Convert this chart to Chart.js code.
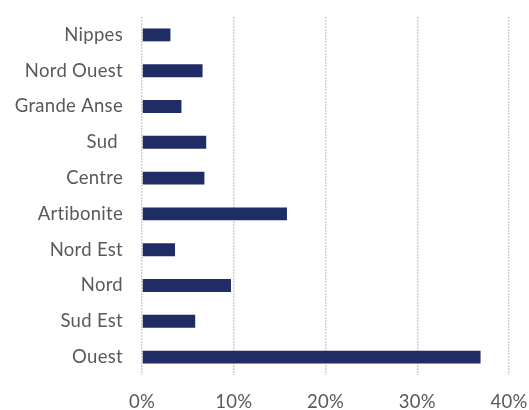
<!DOCTYPE html>
<html>
<head>
<meta charset="utf-8">
<script src="https://cdn.jsdelivr.net/npm/chart.js@4"></script>
<style>
html,body{margin:0;padding:0;background:#fff;}
#wrap{width:529px;height:410px;position:relative;}
</style>
</head>
<body>
<div id="wrap"><canvas id="c" width="529" height="410"></canvas></div>
<script>
const categories = ["Nippes","Nord Ouest","Grande Anse","Sud ","Centre","Artibonite","Nord Est","Nord","Sud Est","Ouest"];
const values = [3.1, 6.6, 4.3, 7.0, 6.8, 15.8, 3.6, 9.7, 5.8, 36.9];
const xTicks = [0, 10, 20, 30, 40];

const spacingPlugin = {
  id: 'spacing',
  beforeInit(chart) { chart.ctx.letterSpacing = '0.3px'; },
  beforeDraw(chart) { chart.ctx.letterSpacing = '0.3px'; }
};

new Chart(document.getElementById('c'), {
  type: 'bar',
  plugins: [spacingPlugin],
  data: {
    labels: categories,
    datasets: [{
      data: values,
      backgroundColor: '#1f2c66',
      borderWidth: 0,
      barPercentage: 0.36,
      categoryPercentage: 1.0
    }]
  },
  options: {
    indexAxis: 'y',
    responsive: false,
    animation: false,
    events: [],
    layout: { padding: { top: 17, right: 20, bottom: 0, left: 0 } },
    plugins: { legend: { display: false }, tooltip: { enabled: false } },
    scales: {
      x: {
        min: 0, max: 40,
        afterBuildTicks: (axis) => { axis.ticks = xTicks.map(v => ({ value: v })); },
        afterFit: (axis) => { axis.height = 35; axis.paddingLeft = 0; axis.paddingRight = 0; axis.paddingTop = 0; axis.paddingBottom = 0; },
        grid: { color: '#cfcfcf', lineWidth: 1.5, drawTicks: false },
        border: { display: false, dash: [2, 1] },
        ticks: {
          padding: 16,
          color: '#595959',
          font: { family: 'Lato', size: 18.5 },
          callback: (v) => v + '%'
        }
      },
      y: {
        afterFit: (axis) => { axis.width = 142; axis.paddingLeft = 0; axis.paddingRight = 0; axis.paddingTop = 0; axis.paddingBottom = 0; },
        grid: { display: false, drawTicks: false },
        border: { display: false },
        ticks: {
          padding: 19,
          color: '#595959',
          font: { family: 'Lato', size: 18.5 }
        }
      }
    }
  }
});
</script>
</body>
</html>
